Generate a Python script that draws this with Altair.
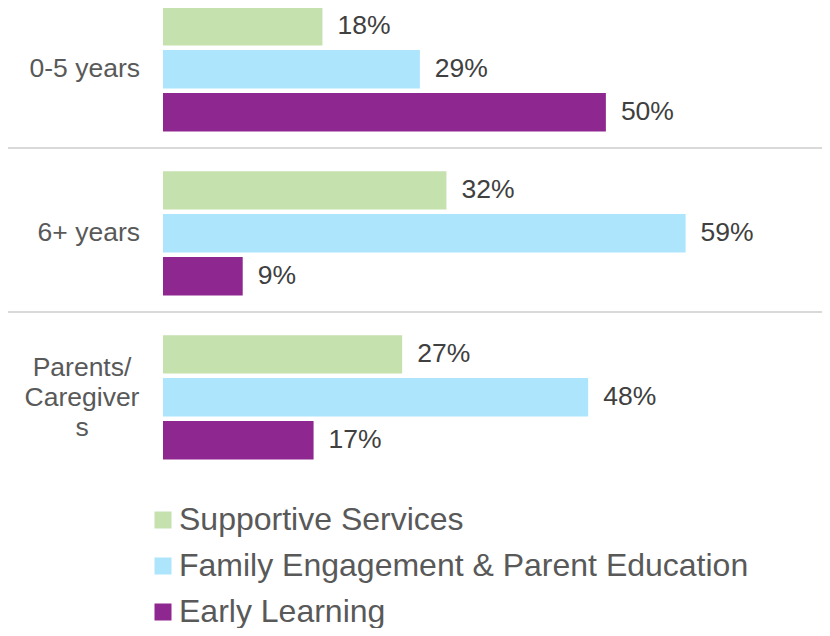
import altair as alt
import pandas as pd

groups = ["0-5 years", "6+ years", "Parents/Caregivers"]
group_text = ["0-5 years", "6+ years", "Parents/|Caregiver|s"]
series = ["Supportive Services", "Family Engagement & Parent Education", "Early Learning"]
supportive = [18, 32, 27]
family = [29, 59, 48]
early = [50, 9, 17]
colors = ["#C5E1AE", "#ADE5FD", "#8E278F"]

rows = []
for s, vals in zip(series, [supportive, family, early]):
    for g, v in zip(groups, vals):
        rows.append({"group": g, "series": s, "value": v, "label": f"{v}%"})
df = pd.DataFrame(rows)
grp_df = pd.DataFrame({"group": groups, "text": group_text})
single_df = grp_df[~grp_df["text"].str.contains("|", regex=False)].reset_index(drop=True)
multi_df = grp_df[grp_df["text"].str.contains("|", regex=False)].reset_index(drop=True)

FONT = "Liberation Sans"
W = 659
H = 620

y_scale = alt.Scale(range=[-24, 468], paddingInner=0, paddingOuter=0)
y_enc = alt.Y("group:N", sort=groups, scale=y_scale, axis=None)
yoff = alt.YOffset(
    "series:N", sort=series,
    scale=alt.Scale(paddingInner=0.105, paddingOuter=0.46, align=0.585),
)
x_enc = alt.X("value:Q", scale=alt.Scale(domain=[0, 74.4]), axis=None)

bars = alt.Chart(df).mark_bar().encode(
    x=x_enc,
    y=y_enc,
    yOffset=yoff,
    color=alt.Color(
        "series:N", sort=series,
        scale=alt.Scale(domain=series, range=colors),
        legend=alt.Legend(
            title=None, orient="none", legendX=-16, legendY=496,
            symbolType="square", symbolSize=289, symbolStrokeWidth=0,
            labelFontSize=32, labelColor="#595959", labelFont=FONT,
            rowPadding=14, labelOffset=0, padding=0, direction="vertical",
            labelLimit=800,
        ),
    ),
)

labels = alt.Chart(df).mark_text(
    align="left", baseline="middle", dx=15, fontSize=26.5, font=FONT, color="#404040"
).encode(
    x=x_enc, y=y_enc, yOffset=yoff, text="label:N"
)

cat_single = alt.Chart(single_df).mark_text(
    align="right", baseline="middle", fontSize=26.5, font=FONT, color="#595959", dy=3
).encode(
    y=y_enc, x=alt.value(-23), text="text:N"
)
cat_multi = alt.Chart(multi_df).mark_text(
    align="center", baseline="middle", fontSize=26.5, font=FONT, color="#595959",
    lineBreak="|", lineHeight=30, dy=-26
).encode(
    y=y_enc, x=alt.value(-81), text="text:N"
)

seps = alt.Chart(grp_df).mark_rule(color="#D9D9D9", strokeWidth=2).encode(
    y=alt.Y("group:N", sort=groups, scale=y_scale, axis=None, bandPosition=0),
    x=alt.value(-155),
    x2=alt.value(W),
)

chart = alt.layer(seps, bars, labels, cat_single, cat_multi).properties(
    width=W, height=H,
    autosize=alt.AutoSizeParams(type="none"),
    padding={"left": 155, "top": 0, "right": 0, "bottom": 0},
).configure_view(stroke=None)

chart.save("out.html", embed_options={"renderer": "svg", "actions": False})
